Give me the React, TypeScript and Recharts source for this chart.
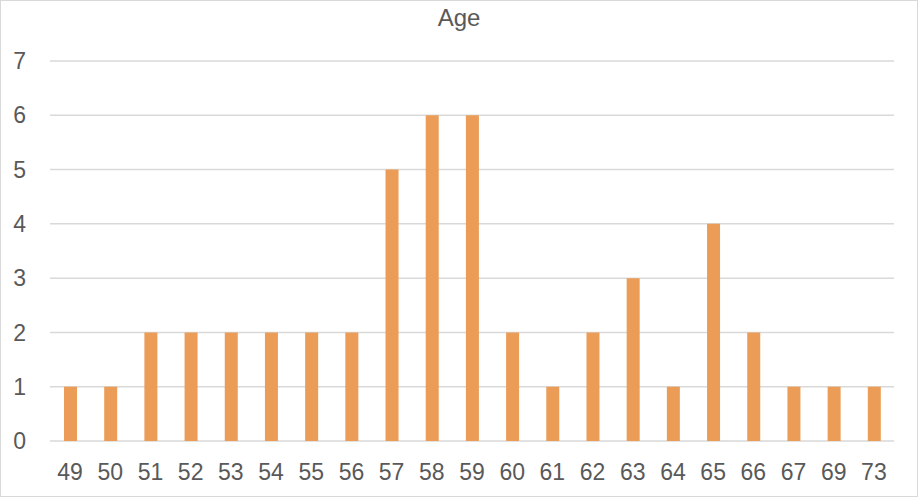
import React from 'react';
import { BarChart, Bar, XAxis, YAxis, CartesianGrid } from 'recharts';

const ages = ['49', '50', '51', '52', '53', '54', '55', '56', '57', '58', '59', '60', '61', '62', '63', '64', '65', '66', '67', '69', '73'];
const counts = [1, 1, 2, 2, 2, 2, 2, 2, 5, 6, 6, 2, 1, 2, 3, 1, 4, 2, 1, 1, 1];
const yTicks = [0, 1, 2, 3, 4, 5, 6, 7];

const data = ages.map((age, i) => ({ age, count: counts[i] }));

const font = '"Liberation Sans", Arial, sans-serif';
const textColor = '#595959';

const App: React.FC = () => {
    return (
        <div
            style={{
                position: 'absolute',
                left: 0,
                top: 0,
                width: 918,
                height: 497,
                border: '1px solid #d9d9d9',
                boxSizing: 'border-box',
                background: '#fff',
                fontFamily: font,
            }}
        >
            <div
                style={{
                    position: 'absolute',
                    left: 0,
                    width: 916,
                    top: 3,
                    textAlign: 'center',
                    fontSize: 24,
                    color: textColor,
                    paddingLeft: 0,
                }}
            >
                Age
            </div>
            <BarChart
                width={916}
                height={495}
                data={data}
                margin={{ top: 60, right: 23, bottom: 25, left: 0 }}
            >
                <CartesianGrid vertical={false} stroke="#d9d9d9" strokeWidth={1.5} />
                <XAxis
                    dataKey="age"
                    interval={0}
                    height={30}
                    axisLine={false}
                    tickLine={false}
                    tickSize={0}
                    tickMargin={23}
                    tick={{ fill: textColor, fontSize: 23, fontFamily: font }}
                />
                <YAxis
                    domain={[0, 7]}
                    ticks={yTicks}
                    width={49}
                    axisLine={false}
                    tickLine={false}
                    tickSize={0}
                    tickMargin={24}
                    tick={{ fill: textColor, fontSize: 23, fontFamily: font }}
                />
                <Bar dataKey="count" fill="#eb9c57" barSize={13} isAnimationActive={false} />
            </BarChart>
        </div>
    );
};

export default App;
